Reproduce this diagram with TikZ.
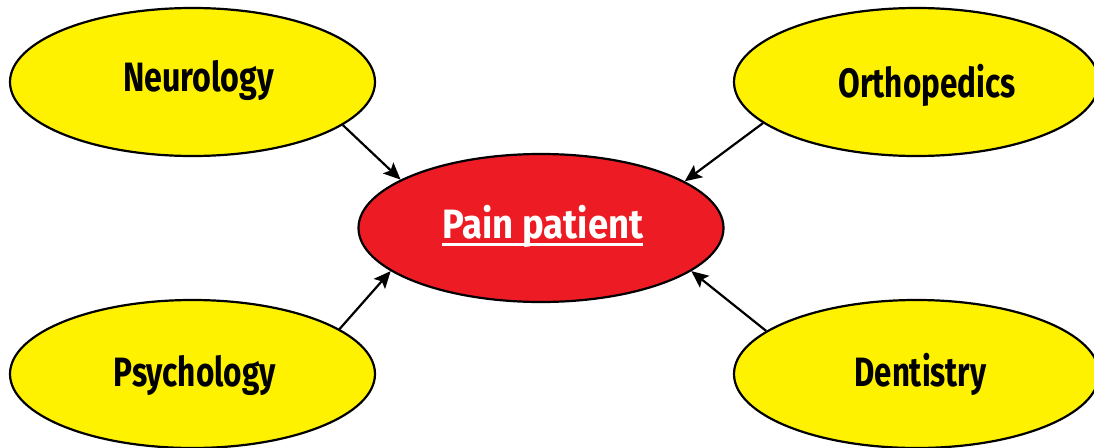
\documentclass[tikz,border=0pt]{standalone}
\usepackage{fontspec}
\setmainfont{Fira Sans}
\usetikzlibrary{shapes.geometric,arrows.meta}
\definecolor{blobyellow}{HTML}{FFF200}
\definecolor{painred}{HTML}{ED1C24}
\newcommand{\fitw}[2]{\resizebox{#1}{\height}{\fontsize{41}{49}\selectfont\bfseries #2}}
\tikzset{
  blob/.style={ellipse, draw=black, line width=2.2pt, minimum width=365pt, minimum height=148pt, inner sep=0pt},
  lbl/.style={anchor=base, inner sep=0pt, outer sep=0pt},
  conn/.style={line width=2.2pt, -{Stealth[length=17pt,width=15pt,inset=3.5pt]}}
}
\begin{document}
\begin{tikzpicture}[x=1pt,y=-1pt]
\useasboundingbox (0,0) rectangle (1094,447);
\node[blob, fill=blobyellow] (neuro) at (192.5,82) {};
\node[blob, fill=blobyellow] (ortho) at (916.5,82) {};
\node[blob, fill=blobyellow] (psych) at (192.5,374) {};
\node[blob, fill=blobyellow] (dent) at (916.5,374) {};
\node[blob, fill=painred] (pain) at (541,228) {};
\node[lbl] (tneuro) at (198.7,91.7) {\fitw{151pt}{Neurology}};
\node[lbl] (tortho) at (927,97.7) {\fitw{177pt}{Orthopedics}};
\node[lbl] (tpsych) at (195,386.7) {\fitw{162pt}{Psychology}};
\node[lbl] (tdent) at (920.5,386.7) {\fitw{132pt}{Dentistry}};
\node[lbl, text=white] (tpain) at (542.8,238.3) {\fitw{201pt}{Pain patient}};
\draw[white, line width=3pt] ([yshift=-5.8pt]tpain.base west) -- ([yshift=-5.8pt]tpain.base east);
\draw[conn] (neuro.-16) -- (pain.161);
\draw[conn] (ortho.195.6) -- (pain.18);
\draw[conn] (psych.17) -- (pain.196.6);
\draw[conn] (dent.164.5) -- (pain.-16);
\end{tikzpicture}
\end{document}
